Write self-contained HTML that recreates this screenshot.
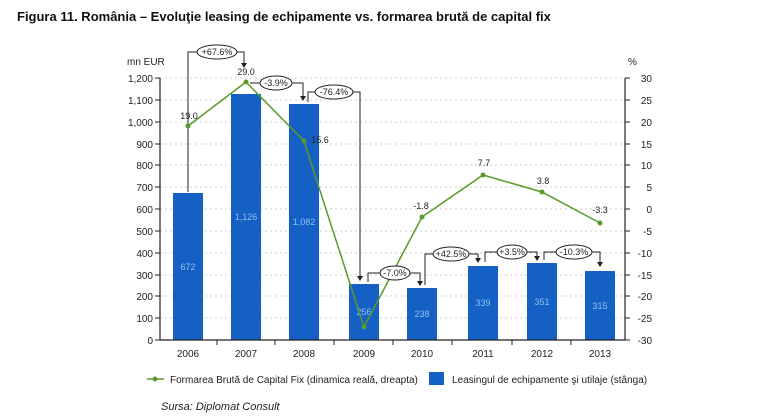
<!DOCTYPE html>
<html><head><meta charset="utf-8"><style>
body{margin:0;background:#fff;}
svg{display:block;font-family:"Liberation Sans",sans-serif;}
</style></head><body>
<svg width="760" height="420" viewBox="0 0 760 420" xmlns="http://www.w3.org/2000/svg">
<text x="17" y="21" font-size="13" font-weight="bold" fill="#111">Figura 11. România – Evoluţie leasing de echipamente vs. formarea brută de capital fix</text>
<text x="127" y="65" font-size="10" fill="#222">mn EUR</text>
<text x="628" y="65" font-size="10" fill="#222">%</text>
<g stroke="#ccc" stroke-dasharray="2,3" stroke-width="1">
<line x1="160" y1="78" x2="625" y2="78"/><line x1="160" y1="100" x2="625" y2="100"/>
<line x1="160" y1="122" x2="625" y2="122"/><line x1="160" y1="144" x2="625" y2="144"/>
<line x1="160" y1="165" x2="625" y2="165"/><line x1="160" y1="187" x2="625" y2="187"/>
<line x1="160" y1="209" x2="625" y2="209"/><line x1="160" y1="231" x2="625" y2="231"/>
<line x1="160" y1="253" x2="625" y2="253"/><line x1="160" y1="275" x2="625" y2="275"/>
<line x1="160" y1="296" x2="625" y2="296"/><line x1="160" y1="318" x2="625" y2="318"/>
</g>
<g fill="#1560c4">
<rect x="173" y="193" width="30" height="147"/>
<rect x="231" y="94" width="30" height="246"/>
<rect x="289" y="104" width="30" height="236"/>
<rect x="349" y="284" width="30" height="56"/>
<rect x="407" y="288" width="30" height="52"/>
<rect x="468" y="266" width="30" height="74"/>
<rect x="527" y="263" width="30" height="77"/>
<rect x="585" y="271" width="30" height="69"/>
</g>
<g font-size="9" fill="#8fc0f0" text-anchor="middle">
<text x="188" y="270">672</text><text x="246" y="220">1,126</text><text x="304" y="225">1,082</text>
<text x="364" y="315">256</text><text x="422" y="317">238</text><text x="483" y="306">339</text>
<text x="542" y="305">351</text><text x="600" y="309">315</text>
</g>
<g stroke="#222" stroke-width="1.2">
<line x1="160" y1="78" x2="160" y2="340"/><line x1="625" y1="78" x2="625" y2="340"/>
<line x1="160" y1="340" x2="625" y2="340"/>
</g>
<g font-size="10" fill="#222" text-anchor="end">
<text x="153" y="82">1,200</text><text x="153" y="104">1,100</text><text x="153" y="126">1,000</text>
<text x="153" y="148">900</text><text x="153" y="169">800</text><text x="153" y="191">700</text>
<text x="153" y="213">600</text><text x="153" y="235">500</text><text x="153" y="257">400</text>
<text x="153" y="279">300</text><text x="153" y="300">200</text><text x="153" y="322">100</text>
<text x="153" y="344">0</text>
</g>
<g stroke="#222" stroke-width="1">
<path d="M155 78h5M155 100h5M155 122h5M155 144h5M155 165h5M155 187h5M155 209h5M155 231h5M155 253h5M155 275h5M155 296h5M155 318h5M155 340h5"/>
<path d="M625 78h5M625 100h5M625 122h5M625 144h5M625 165h5M625 187h5M625 209h5M625 231h5M625 253h5M625 275h5M625 296h5M625 318h5M625 340h5"/>
<path d="M217 340v5M275 340v5M334 340v5M393 340v5M452 340v5M512 340v5M571 340v5"/>
</g>
<g font-size="10" fill="#222" text-anchor="end">
<text x="652" y="82">30</text><text x="652" y="104">25</text><text x="652" y="126">20</text>
<text x="652" y="148">15</text><text x="652" y="169">10</text><text x="652" y="191">5</text>
<text x="652" y="213">0</text><text x="652" y="235">-5</text><text x="652" y="257">-10</text>
<text x="652" y="279">-15</text><text x="652" y="300">-20</text><text x="652" y="322">-25</text>
<text x="652" y="344">-30</text>
</g>
<g font-size="10" fill="#222" text-anchor="middle">
<text x="188" y="357">2006</text><text x="246" y="357">2007</text><text x="304" y="357">2008</text>
<text x="364" y="357">2009</text><text x="422" y="357">2010</text><text x="483" y="357">2011</text>
<text x="542" y="357">2012</text><text x="600" y="357">2013</text>
</g>
<g fill="none" stroke="#222" stroke-width="1">
<path d="M188 192V52H244v12"/>
<path d="M250 83h53v14"/>
<path d="M308 102v-10h52v185"/>
<path d="M368 282v-9h52v9"/>
<path d="M425 285V254h53v5"/>
<path d="M485 262v-10h52v5"/>
<path d="M544 260v-8h56v10"/>
</g>
<g fill="#222">
<path d="M241 63h6l-3 5z"/><path d="M300 96h6l-3 5z"/><path d="M357 276h6l-3 5z"/>
<path d="M417 281h6l-3 5z"/><path d="M475 258h6l-3 5z"/><path d="M534 256h6l-3 5z"/><path d="M597 262h6l-3 5z"/>
</g>
<polyline points="188,126 246,82 304,141 364,327 422,217 483,175 542,192 600,223" fill="none" stroke="#5a9a2a" stroke-width="1.5"/>
<g fill="#5a9a2a">
<circle cx="188" cy="126" r="2.5"/><circle cx="246" cy="82" r="2.5"/><circle cx="304" cy="141" r="2.5"/>
<circle cx="364" cy="327" r="2.5"/><circle cx="422" cy="217" r="2.5"/><circle cx="483" cy="175" r="2.5"/>
<circle cx="542" cy="192" r="2.5"/><circle cx="600" cy="223" r="2.5"/>
</g>
<g font-size="9" fill="#222" text-anchor="middle">
<text x="189" y="119">19.0</text><text x="246" y="75">29.0</text><text x="320" y="143">15.6</text>
<text x="421" y="209">-1.8</text><text x="484" y="166">7.7</text><text x="543" y="184">3.8</text><text x="600" y="213">-3.3</text>
</g>
<g fill="#fff" stroke="#222" stroke-width="1">
<ellipse cx="217" cy="52" rx="20" ry="7"/><ellipse cx="276" cy="83" rx="16" ry="7"/>
<ellipse cx="334" cy="92" rx="19" ry="7"/><ellipse cx="395" cy="273" rx="15" ry="7"/>
<ellipse cx="451" cy="254" rx="18" ry="7"/><ellipse cx="512" cy="252" rx="15" ry="7"/>
<ellipse cx="574" cy="252" rx="18" ry="7"/>
</g>
<g font-size="9" fill="#222" text-anchor="middle">
<text x="217" y="55">+67.6%</text><text x="276" y="86">-3.9%</text><text x="334" y="95">-76.4%</text>
<text x="395" y="276">-7.0%</text><text x="451" y="257">+42.5%</text><text x="512" y="255">+3.5%</text><text x="574" y="255">-10.3%</text>
</g>
<line x1="147" y1="379" x2="164" y2="379" stroke="#5a9a2a" stroke-width="1.5"/>
<circle cx="155" cy="379" r="2.5" fill="#5a9a2a"/>
<text x="170" y="383" font-size="10" fill="#222">Formarea Brută de Capital Fix (dinamica reală, dreapta)</text>
<rect x="429" y="372" width="15" height="13" fill="#1560c4"/>
<text x="452" y="383" font-size="10" fill="#222">Leasingul de echipamente şi utilaje (stânga)</text>
<text x="161" y="410" font-size="11" font-style="italic" fill="#222">Sursa: Diplomat Consult</text>
</svg>
</body></html>
